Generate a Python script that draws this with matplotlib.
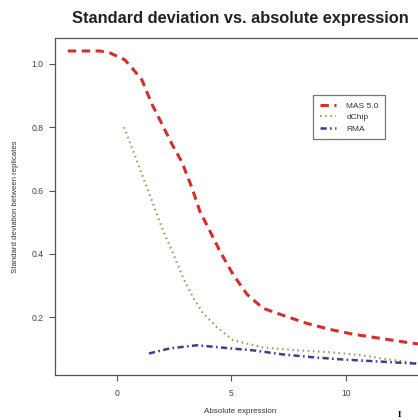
"""Standard deviation between replicates vs. absolute expression for three summary methods."""

import matplotlib

matplotlib.use("Agg")
import matplotlib.pyplot as plt

plt.rcParams["font.family"] = ["Liberation Sans", "DejaVu Sans"]
plt.rcParams["lines.scale_dashes"] = False

# values
mas_x = [-2.14, -0.74, -0.31, 0.35, 0.70, 1.09, 1.53, 1.97, 2.40, 2.84, 3.28, 3.62,
         4.06, 4.50, 5.07, 5.68, 6.38, 7.12, 8.30, 9.30, 10.31, 11.48, 12.66, 13.4]
mas_y = [1.041, 1.041, 1.035, 1.013, 0.984, 0.950, 0.873, 0.810, 0.747, 0.690, 0.608, 0.535,
         0.472, 0.408, 0.335, 0.272, 0.228, 0.209, 0.180, 0.161, 0.146, 0.133, 0.120, 0.113]

dchip_x = [0.31, 0.70, 1.14, 1.57, 2.01, 2.45, 2.88, 3.32, 3.76, 4.37, 5.07, 6.38,
           7.86, 9.30, 10.74, 11.48, 13.1]
dchip_y = [0.800, 0.728, 0.642, 0.560, 0.475, 0.402, 0.326, 0.263, 0.212, 0.168, 0.127, 0.104,
           0.095, 0.089, 0.079, 0.070, 0.054]

rma_x = [1.40, 2.31, 3.49, 4.98, 5.94, 7.25, 8.56, 9.87, 11.35, 12.79, 13.4]
rma_y = [0.085, 0.101, 0.111, 0.101, 0.095, 0.082, 0.073, 0.066, 0.060, 0.054, 0.052]

labels = ["MAS 5.0", "dChip", "RMA"]
xticks = [0, 5, 10]
yticks = [0.2, 0.4, 0.6, 0.8, 1.0]

GREY = "#555555"

fig = plt.figure(figsize=(4.18, 4.20), dpi=100)
ax = fig.add_axes([55 / 418, 45 / 420, 370 / 418, 337 / 420])

ax.plot(mas_x, mas_y, color="#d3302a", lw=2.2, dashes=(6.0, 4.0), label=labels[0])
ax.plot(dchip_x, dchip_y, color="#93a065", lw=1.6, dashes=(1.1, 2.6), label=labels[1])
ax.plot(rma_x, rma_y, color="#3b3f8c", lw=1.8, dashes=(4.5, 2.4, 1.2, 2.4), label=labels[2])

ax.set_xlim(-2.7, 13.45)
ax.set_ylim(0.017, 1.082)
ax.set_xticks(xticks)
ax.set_yticks(yticks)
ax.set_xticklabels([str(t) for t in xticks])
ax.set_yticklabels([f"{t:.1f}" for t in yticks])
ax.tick_params(axis="both", direction="out", length=4, width=0.8, color=GREY,
               labelcolor="#444444", labelsize=6.2)
ax.tick_params(axis="y", pad=4)
ax.tick_params(axis="x", pad=6)
for sp in ax.spines.values():
    sp.set_color(GREY)
    sp.set_linewidth(0.9)

ax.set_xlabel("Absolute expression", fontsize=5.8, color="#333333", labelpad=7)
ax.set_ylabel("Standard deviation between replicates", fontsize=5.6, color="#333333",
              labelpad=9)
fig.text(240 / 418, 1 - 18 / 420, "Standard deviation vs. absolute expression",
         ha="center", va="center", fontsize=11.8, fontweight="bold", color="#222222")

leg = ax.legend(loc="upper left", bbox_to_anchor=(313 / 418, 1 - 95 / 420),
                bbox_transform=fig.transFigure, fontsize=6, frameon=True, fancybox=False,
                borderaxespad=0, borderpad=0.8, handlelength=2.0, handletextpad=1.2,
                labelspacing=0.45)
leg.get_frame().set_edgecolor(GREY)
leg.get_frame().set_linewidth(0.9)
for t in leg.get_texts():
    t.set_color("#333333")

# stray glyph at the bottom edge of the source image, shrunk to stay inside the canvas
fig.text(398 / 418, 1 - 411 / 420, "I", ha="left", va="top", fontsize=6.5,
         family=["Liberation Serif"], fontweight="bold", color="black")

fig.savefig("out.png", dpi=100)
